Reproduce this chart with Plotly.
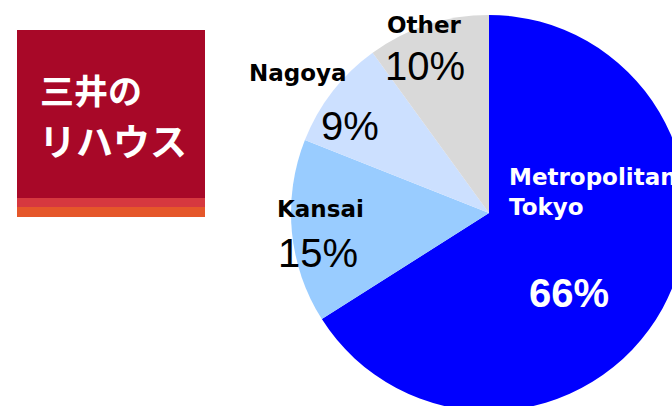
import plotly.graph_objects as go

# data
regions = ["Metropolitan<br>Tokyo", "Kansai", "Nagoya", "Other"]
shares = [66, 15, 9, 10]
colors = ["#0000FF", "#99CCFF", "#CCE0FF", "#D9D9D9"]
logo_lines = ["三井の", "リハウス"]

W, H = 700, 420  # a bit larger than the window so the pie runs off the edge


def px(x):
    return x / W


def py(y):
    return 1 - y / H


fig = go.Figure()

fig.add_trace(go.Pie(
    labels=regions,
    values=shares,
    sort=False,
    direction="clockwise",
    rotation=0,
    marker=dict(colors=colors, line=dict(width=0)),
    textinfo="none",
    hoverinfo="label+percent",
    showlegend=False,
    domain=dict(x=[px(291), px(687)], y=[py(411), py(15)]),
))

# slice labels (name bold, percent below)
name_font = dict(family="DejaVu Sans", size=23, color="black", weight="bold")
pct_font = dict(family="Liberation Sans, Arial", size=40, color="black")

# (name x, name y, pct x, pct y) in pixels
pos = [
    (507, 176, 569, 293),
    (320, 209, 318, 253),
    (298, 73, 350, 126),
    (424, 25, 425, 66),
]

for i, (lab, val) in enumerate(zip(regions, shares)):
    nx, ny, tx, ty = pos[i]
    if i == 0:
        fig.add_annotation(x=px(nx), y=py(ny + 16), xref="paper", yref="paper",
                           text="<b>" + lab + "</b>", showarrow=False,
                           xanchor="left", yanchor="middle", align="left",
                           font=dict(name_font, color="white"))
        fig.add_annotation(x=px(tx), y=py(ty), xref="paper", yref="paper",
                           text="<b>%d%%</b>" % val, showarrow=False,
                           xanchor="center", yanchor="middle",
                           font=dict(family="Liberation Sans, Arial", size=40,
                                     color="white"))
    else:
        fig.add_annotation(x=px(nx), y=py(ny), xref="paper", yref="paper",
                           text="<b>" + lab + "</b>", showarrow=False,
                           xanchor="center", yanchor="middle", font=name_font)
        fig.add_annotation(x=px(tx), y=py(ty), xref="paper", yref="paper",
                           text="%d%%" % val, showarrow=False,
                           xanchor="center", yanchor="middle", font=pct_font)

# logo block
fig.add_shape(type="rect", xref="paper", yref="paper",
              x0=px(17), x1=px(205), y0=py(30), y1=py(199),
              fillcolor="#A80828", line=dict(width=0), layer="below")
fig.add_shape(type="rect", xref="paper", yref="paper",
              x0=px(17), x1=px(205), y0=py(198), y1=py(208),
              fillcolor="#D6383F", line=dict(width=0), layer="below")
fig.add_shape(type="rect", xref="paper", yref="paper",
              x0=px(17), x1=px(205), y0=py(207), y1=py(217),
              fillcolor="#E5572A", line=dict(width=0), layer="below")

fig.add_annotation(x=px(38), y=py(89), xref="paper", yref="paper",
                   text=logo_lines[0], showarrow=False,
                   xanchor="left", yanchor="middle",
                   font=dict(family="Noto Sans CJK JP", size=34, color="white",
                             weight="bold"))
fig.add_annotation(x=px(37), y=py(140), xref="paper", yref="paper",
                   text=logo_lines[1], showarrow=False,
                   xanchor="left", yanchor="middle",
                   font=dict(family="Noto Sans CJK JP", size=37, color="white",
                             weight="bold"))

fig.update_layout(
    width=W, height=H,
    margin=dict(l=0, r=0, t=0, b=0),
    paper_bgcolor="white",
    plot_bgcolor="white",
)

fig.write_html("out.html", config={"displayModeBar": False}, post_script=(
    "document.body.style.margin='0';"
    "document.body.style.overflow='hidden';"
    "document.documentElement.style.overflow='hidden';"
))
